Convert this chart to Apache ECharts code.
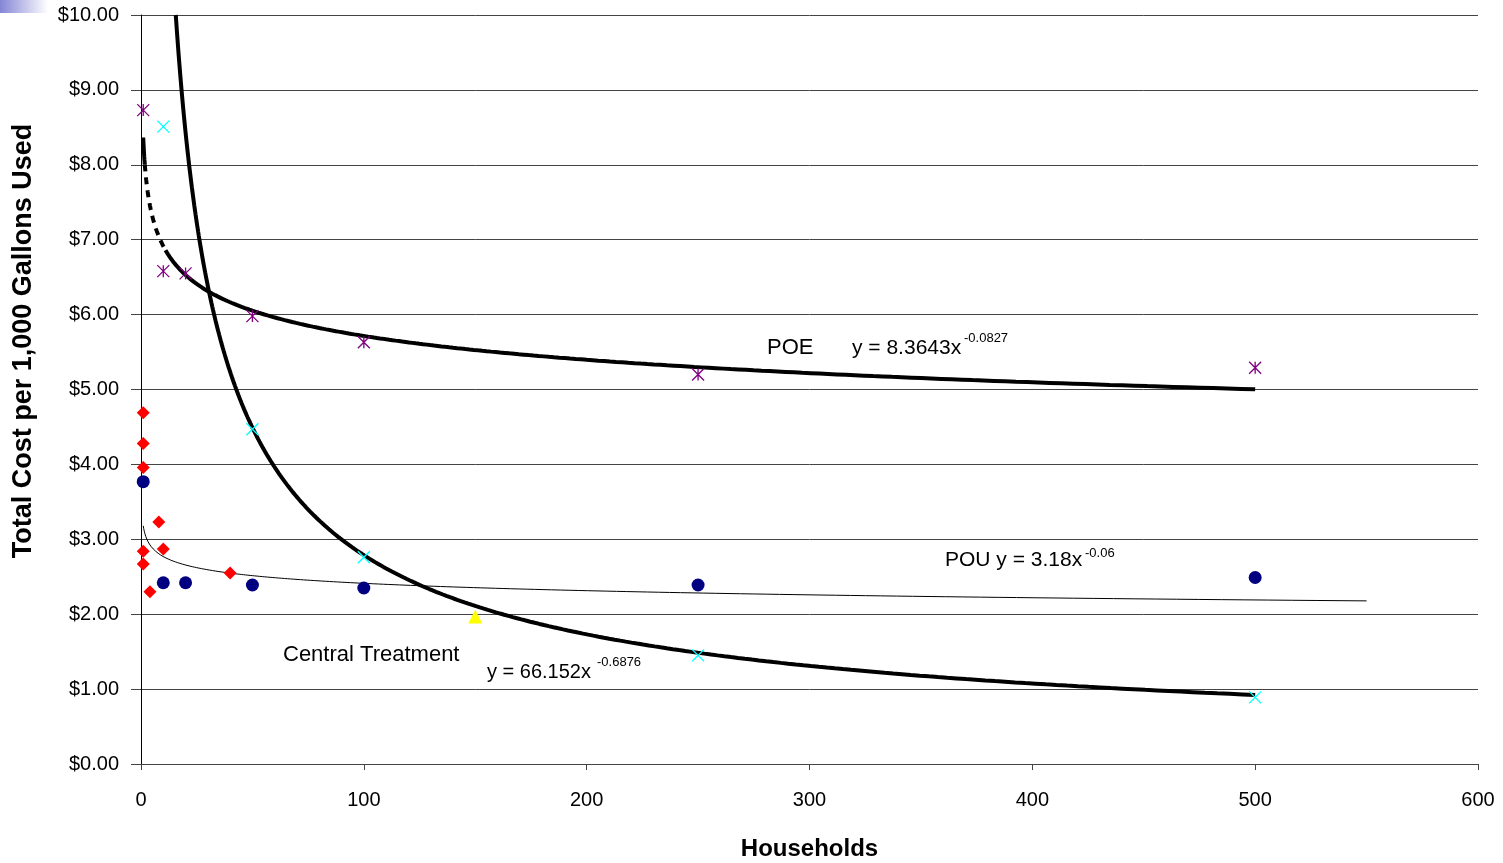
<!DOCTYPE html>
<html>
<head>
<meta charset="utf-8">
<script src="https://cdn.jsdelivr.net/npm/echarts@6/dist/echarts.min.js"></script>
<style>html,body{margin:0;padding:0;background:#fff}#c{width:1503px;height:863px}</style>
</head>
<body>
<div id="c"></div>
<script>
// ---- data ----
const xTicks = [0, 100, 200, 300, 400, 500, 600];
const yTicks = [0, 1, 2, 3, 4, 5, 6, 7, 8, 9, 10];

const poeX = [1, 10, 20, 50, 100, 250, 500];
const poeY = [8.73, 6.58, 6.55, 5.98, 5.63, 5.20, 5.29];

const centralX = [10, 50, 100, 250, 500];
const centralY = [8.51, 4.47, 2.76, 1.45, 0.89];

const yellowX = [150];
const yellowY = [1.97];

const redX = [1, 1, 1, 8, 10, 1, 1, 4, 40];
const redY = [4.69, 4.28, 3.96, 3.23, 2.87, 2.84, 2.67, 2.30, 2.55];

const pouX = [1, 10, 20, 50, 100, 250, 500];
const pouY = [3.77, 2.42, 2.42, 2.39, 2.35, 2.39, 2.49];

// trend line equations shown on the chart
const poeFit = { a: 8.3643, b: -0.0827, from: 1, to: 500 };
const centralFit = { a: 66.152, b: -0.6876, from: 1, to: 500 };
const pouFit = { a: 3.18, b: -0.06, from: 1, to: 550 };

function zip(xs, ys) { return xs.map((x, i) => [x, ys[i]]); }
function curve(fit, from, to, n) {
  const pts = [];
  const la = Math.log(from), lb = Math.log(to);
  for (let i = 0; i <= n; i++) {
    const x = Math.exp(la + (lb - la) * i / n);
    pts.push([x, fit.a * Math.pow(x, fit.b)]);
  }
  return pts;
}
// y of central curve reaches 10 near x = 15.6: start the visible part there
const centralStart = Math.pow(10 / centralFit.a, 1 / centralFit.b);

const asterisk = 'path://M0,0L10,10M10,0L0,10M5,0L5,10';
const cross = 'path://M0,0L10,10M10,0L0,10';
const FONT = '"Liberation Sans", Arial, sans-serif';

const chart = echarts.init(document.getElementById('c'), null, { renderer: 'canvas' });
chart.setOption({
  animation: false,
  backgroundColor: '#fff',
  grid: { left: 141, top: 15, right: 25, bottom: 99, containLabel: false, outerBoundsMode: 'none' },
  xAxis: {
    type: 'value', min: 0, max: 600, interval: 100,
    name: 'Households', nameLocation: 'middle', nameGap: 73,
    nameTextStyle: { fontFamily: FONT, fontSize: 24, fontWeight: 'bold', color: '#000' },
    axisLine: { show: true, onZero: false, lineStyle: { color: '#444', width: 1 } },
    axisTick: { show: true, length: 6, lineStyle: { color: '#444' } },
    axisLabel: { fontFamily: FONT, fontSize: 20, color: '#000', margin: 26 },
    splitLine: { show: false }
  },
  yAxis: {
    type: 'value', min: 0, max: 10, interval: 1,
    axisLine: { show: true, lineStyle: { color: '#000', width: 1 } },
    axisTick: { show: true, length: 10, lineStyle: { color: '#444' } },
    axisLabel: { fontFamily: FONT, fontSize: 20, color: '#000', margin: 22,
      formatter: v => '$' + v.toFixed(2) },
    splitLine: { show: true, lineStyle: { color: '#444', width: 1 } }
  },
  series: [
    { type: 'line', name: 'POE fit a', data: curve(poeFit, poeFit.from, 1.7, 20), showSymbol: false,
      lineStyle: { color: '#000', width: 4 }, z: 3 },
    { type: 'line', name: 'POE fit b', data: curve(poeFit, 1.7, 11, 60), showSymbol: false,
      lineStyle: { color: '#000', width: 4, type: [7, 6] }, z: 3 },
    { type: 'line', name: 'POE fit c', data: curve(poeFit, 11, poeFit.to, 300), showSymbol: false,
      lineStyle: { color: '#000', width: 4 }, z: 3 },
    { type: 'line', name: 'Central fit', data: curve(centralFit, centralStart, centralFit.to, 300), showSymbol: false,
      lineStyle: { color: '#000', width: 4 }, z: 3 },
    { type: 'line', name: 'POU fit', data: curve(pouFit, pouFit.from, pouFit.to, 300), showSymbol: false,
      lineStyle: { color: '#000', width: 1 }, z: 3 },
    { type: 'scatter', name: 'POE', data: zip(poeX, poeY), symbol: asterisk, symbolSize: 12,
      itemStyle: { color: 'transparent', borderColor: '#800080', borderWidth: 1.3, opacity: 1 }, z: 5 },
    { type: 'scatter', name: 'Central', data: zip(centralX, centralY), symbol: cross, symbolSize: 12,
      itemStyle: { color: 'transparent', borderColor: '#00FFFF', borderWidth: 1.3, opacity: 1 }, z: 5 },
    { type: 'scatter', name: 'Other', data: zip(yellowX, yellowY), symbol: 'triangle', symbolSize: 14,
      itemStyle: { color: '#FFFF00', opacity: 1 }, z: 5 },
    { type: 'scatter', name: 'Red', data: zip(redX, redY), symbol: 'diamond', symbolSize: 13,
      itemStyle: { color: '#FF0000', opacity: 1 }, z: 5 },
    { type: 'scatter', name: 'POU', data: zip(pouX, pouY), symbol: 'circle', symbolSize: 13,
      itemStyle: { color: '#000080', opacity: 1 }, z: 5 }
  ],
  graphic: [
    { type: 'rect', left: 0, top: 0, shape: { width: 48, height: 13 }, z: 10,
      style: { fill: new echarts.graphic.LinearGradient(0, 0, 1, 0, [
        { offset: 0, color: '#8585d6' }, { offset: 1, color: '#ffffff' }]) } },
    { type: 'text', x: 24, y: 341, rotation: Math.PI / 2, z: 10,
      style: { text: 'Total Cost per 1,000 Gallons Used', font: 'bold 27px ' + FONT,
        fill: '#000', align: 'center', verticalAlign: 'middle' } },
    { type: 'text', x: 767, y: 348, z: 10,
      style: { text: 'POE', font: '22px ' + FONT, fill: '#000', verticalAlign: 'middle' } },
    { type: 'text', x: 852, y: 348, z: 10,
      style: { text: 'y = 8.3643x', font: '21px ' + FONT, fill: '#000', verticalAlign: 'middle' } },
    { type: 'text', x: 964, y: 338, z: 10,
      style: { text: '-0.0827', font: '13px ' + FONT, fill: '#000', verticalAlign: 'middle' } },
    { type: 'text', x: 945, y: 560, z: 10,
      style: { text: 'POU y = 3.18x', font: '21px ' + FONT, fill: '#000', verticalAlign: 'middle' } },
    { type: 'text', x: 1085, y: 553, z: 10,
      style: { text: '-0.06', font: '13px ' + FONT, fill: '#000', verticalAlign: 'middle' } },
    { type: 'text', x: 283, y: 655, z: 10,
      style: { text: 'Central Treatment', font: '22px ' + FONT, fill: '#000', verticalAlign: 'middle' } },
    { type: 'text', x: 487, y: 672, z: 10,
      style: { text: 'y = 66.152x', font: '20px ' + FONT, fill: '#000', verticalAlign: 'middle' } },
    { type: 'text', x: 597, y: 662, z: 10,
      style: { text: '-0.6876', font: '13px ' + FONT, fill: '#000', verticalAlign: 'middle' } }
  ]
});
</script>
</body>
</html>
